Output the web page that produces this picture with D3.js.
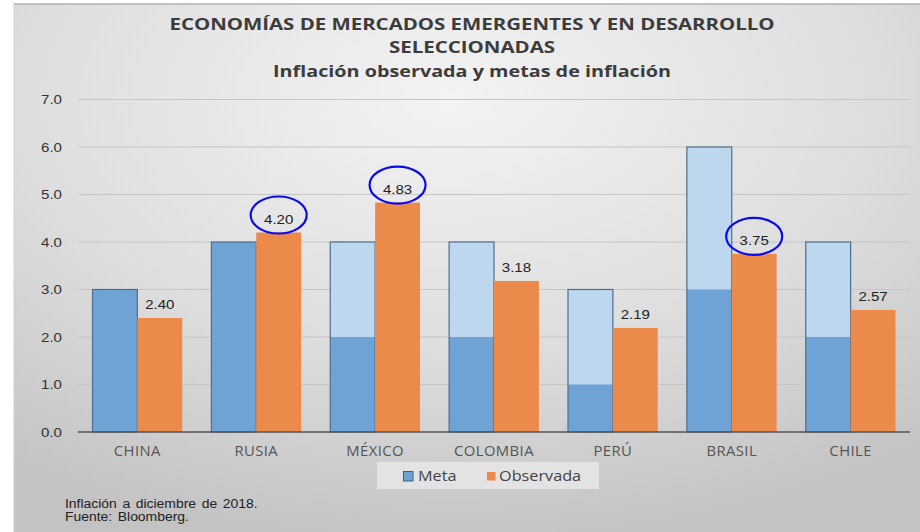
<!DOCTYPE html>
<html><head><meta charset="utf-8">
<script src="https://cdn.jsdelivr.net/npm/d3@7"></script>
<style>html,body{margin:0;padding:0;background:#fff;}svg{display:block;}</style>
</head><body>
<script>
const categories = ["CHINA","RUSIA","MÉXICO","COLOMBIA","PERÚ","BRASIL","CHILE"];
const metaLower = [3, 4, 2, 2, 1, 3, 2];
const metaUpper = [3, 4, 4, 4, 3, 6, 4];
const observada = [2.40, 4.20, 4.83, 3.18, 2.19, 3.75, 2.57];
const highlighted = ["RUSIA","MÉXICO","BRASIL"];
const yTicks = [0,1,2,3,4,5,6,7];
const titleLines = ["ECONOMÍAS DE MERCADOS EMERGENTES Y EN DESARROLLO","SELECCIONADAS","Inflación observada y metas de inflación"];
const notes = ["Inflación a diciembre de 2018.","Fuente:  Bloomberg."];

const W=920,H=532;
const SX=1.16; // horizontal stretch of the original picture
const svg=d3.select("body").append("svg").attr("width",W).attr("height",H);
const defs=svg.append("defs");
const rg=defs.append("radialGradient").attr("id","bg").attr("cx","48%").attr("cy","18%").attr("r","85%");
rg.append("stop").attr("offset","0%").attr("stop-color","#f3f3f3");
rg.append("stop").attr("offset","55%").attr("stop-color","#dedede");
rg.append("stop").attr("offset","100%").attr("stop-color","#c3c3c3");
svg.append("rect").attr("x",14).attr("y",4).attr("width",W-14).attr("height",H-4).attr("fill","url(#bg)");
svg.append("line").attr("x1",14).attr("x2",W).attr("y1",4).attr("y2",4).attr("stroke","#b0b0b0").attr("stroke-width",1.5);
svg.append("line").attr("x1",14).attr("x2",14).attr("y1",4).attr("y2",H).attr("stroke","#d0d0d0").attr("stroke-width",1);

const m={l:78,r:910,t:99.5,b:432};
const x=d3.scaleBand().domain(categories).range([m.l,m.r]).paddingInner(0.245).paddingOuter(0.122);
const y=d3.scaleLinear().domain([0,7]).range([m.b,m.t]);
const bw=x.bandwidth()/2;
const tr=(px,py)=>`translate(${px},${py}) scale(${SX},1)`;

// grid
svg.append("g").selectAll("line").data(yTicks.filter(d=>d>0)).join("line")
 .attr("x1",m.l).attr("x2",m.r).attr("y1",d=>y(d)).attr("y2",d=>y(d))
 .attr("stroke","#c6c6c6").attr("stroke-width",1);

// y labels
svg.append("g").selectAll("text").data(yTicks).join("text")
 .attr("transform",d=>tr(62,y(d)+4.5)).attr("text-anchor","end")
 .attr("font-family","'Liberation Sans',Arial,sans-serif").attr("font-size",13).attr("fill","#333")
 .text(d=>d.toFixed(1));

const data=categories.map((c,i)=>({c,lo:metaLower[i],hi:metaUpper[i],obs:observada[i]}));
const g=svg.append("g");
g.selectAll(".up").data(data).join("rect")
 .attr("x",d=>x(d.c)).attr("y",d=>y(d.hi)).attr("width",bw).attr("height",d=>y(0)-y(d.hi))
 .attr("fill","#bdd7ee");
g.selectAll(".lo").data(data).join("rect")
 .attr("x",d=>x(d.c)).attr("y",d=>y(d.lo)).attr("width",bw).attr("height",d=>y(0)-y(d.lo))
 .attr("fill","#6fa3d5");
g.selectAll(".bd").data(data).join("rect")
 .attr("x",d=>x(d.c)).attr("y",d=>y(d.hi)).attr("width",bw).attr("height",d=>y(0)-y(d.hi))
 .attr("fill","none").attr("stroke","#4f6e8c").attr("stroke-width",1.2);
g.selectAll(".ob").data(data).join("rect")
 .attr("x",d=>x(d.c)+bw).attr("y",d=>y(d.obs)).attr("width",bw).attr("height",d=>y(0)-y(d.obs))
 .attr("fill","#ec8a4b");
g.selectAll(".lb").data(data).join("text")
 .attr("transform",d=>tr(x(d.c)+bw*1.5,y(d.obs)-9)).attr("text-anchor","middle")
 .attr("font-family","'Liberation Sans',Arial,sans-serif").attr("font-size",13).attr("fill","#222")
 .text(d=>d.obs.toFixed(2));
g.selectAll(".el").data(data.filter(d=>highlighted.includes(d.c))).join("ellipse")
 .attr("cx",d=>x(d.c)+bw*1.5).attr("cy",d=>y(d.obs)-17.5).attr("rx",28).attr("ry",18.5)
 .attr("fill","none").attr("stroke","#0a0af0").attr("stroke-width",2.2);

// x axis
svg.append("line").attr("x1",m.l).attr("x2",m.r).attr("y1",y(0)).attr("y2",y(0)).attr("stroke","#555").attr("stroke-width",1.3);
svg.append("g").selectAll("text").data(categories).join("text")
 .attr("transform",d=>`translate(${x(d)+bw},456) scale(1.06,1)`).attr("text-anchor","middle")
 .attr("font-family","'Open Sans',sans-serif").attr("font-size",14).attr("fill","#555").attr("letter-spacing",0.4)
 .text(d=>d);

// legend
const lg=svg.append("g");
lg.append("rect").attr("x",377).attr("y",462).attr("width",222).attr("height",27).attr("fill","#e6e6e6").attr("opacity",0.9);
lg.append("rect").attr("x",403.5).attr("y",471.5).attr("width",9.5).attr("height",9.5).attr("fill","#6fa3d5").attr("stroke","#3f5f80").attr("stroke-width",1);
lg.append("text").attr("transform",tr(418,481)).attr("font-family","'Open Sans',sans-serif").attr("font-size",14).attr("fill","#444").text("Meta");
lg.append("rect").attr("x",487).attr("y",472).attr("width",8.5).attr("height",8.5).attr("fill","#ec8a4b");
lg.append("text").attr("transform",tr(499,481)).attr("font-family","'Open Sans',sans-serif").attr("font-size",14).attr("fill","#444").text("Observada");

// title
const ty=[30,53,77];
const tw=[605,166,398];
svg.append("g").selectAll("text").data(titleLines).join("text")
 .attr("x",472).attr("y",(d,i)=>ty[i]).attr("text-anchor","middle")
 .attr("font-family","'Open Sans',sans-serif").attr("font-weight","bold")
 .attr("font-size",16).attr("fill","#3c3c3c")
 .attr("textLength",(d,i)=>tw[i]).attr("lengthAdjust","spacingAndGlyphs")
 .text(d=>d);

// notes
svg.append("g").selectAll("text").data(notes).join("text")
 .attr("transform",(d,i)=>tr(65,508+i*12.5)).attr("font-family","'Liberation Sans',Arial,sans-serif")
 .attr("font-size",12).attr("fill","#222").attr("word-spacing",1.5).text(d=>d);
</script>
</body></html>
